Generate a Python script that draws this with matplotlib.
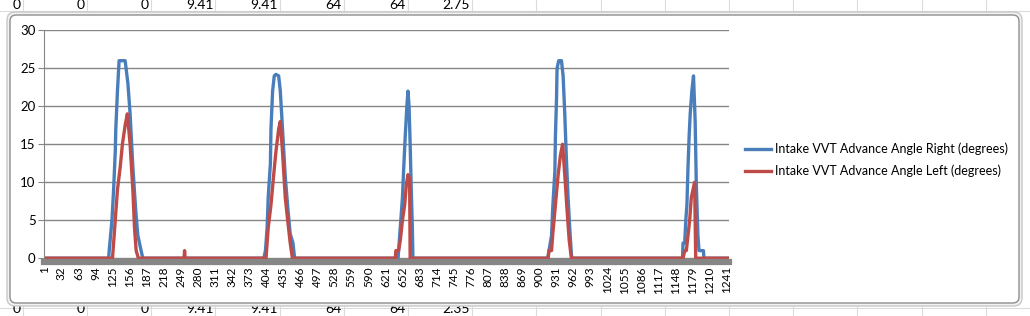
import numpy as np
import matplotlib.pyplot as plt
from matplotlib.patches import FancyBboxPatch
from matplotlib.lines import Line2D

plt.rcParams['font.family'] = ['Lato', 'DejaVu Sans']

# data (category number, degrees)
cat_right = [1, 118, 119, 124, 127, 130, 131, 134, 137, 148, 153, 157, 162, 167, 171, 174, 177, 180,
             400, 403, 406, 408, 412, 413, 416, 419, 422, 427, 430, 434, 439, 444, 448, 453, 456,
             644, 645, 648, 652, 654, 657, 660, 662, 664, 666, 668, 670, 671,
             916, 919, 923, 925, 929, 930, 932, 933, 936, 941, 944, 947, 950, 953, 956, 959, 960,
             1161, 1162, 1165, 1167, 1169, 1171, 1173, 1175, 1178, 1181, 1184, 1186, 1189, 1191, 1199, 1200, 1245]
val_right = [0, 0, 1, 5, 9, 14, 17, 22, 26, 26, 23, 19, 12, 6.5, 3, 2, 1, 0,
             0, 1, 4, 8, 12.5, 17, 22, 24, 24.2, 24, 22, 17, 10.7, 6.3, 3.2, 2, 0,
             0, 1, 4, 8, 11.4, 16, 20, 22, 20, 15, 9, 4, 0,
             0, 1.3, 3, 6.5, 11.4, 16, 21, 25, 26, 26, 24, 19, 13, 8, 4, 0.6, 0,
             0, 2, 2, 5, 7, 12, 16, 19, 22, 24, 18, 10, 3, 1, 1, 0, 0]

cat_left = [1, 125, 130, 134, 139, 143, 148, 152, 157, 162, 165, 168, 172,
            255, 256, 257,
            404, 408, 413, 418, 422, 427, 430, 434, 439, 444, 448, 452,
            639, 640, 645, 648, 652, 656, 659, 662, 665, 666,
            917, 918, 923, 925, 930, 935, 939, 943, 947, 951, 955, 959,
            1162, 1165, 1168, 1171, 1174, 1177, 1180, 1183, 1185, 1245]
val_left = [0, 0, 5, 9, 12, 15, 17.5, 19, 15, 9, 4, 1, 0,
            0, 1, 0,
            0, 4, 7, 11, 14, 17, 18, 14, 8, 4.6, 2, 0,
            0, 1, 1, 2.3, 5, 7, 9.6, 11, 10.5, 0,
            0, 1, 1, 3, 7, 11, 13.5, 15, 11, 6.5, 2.4, 0,
            0, 1, 1, 3, 5, 8, 9, 10, 0, 0]

x_ticks = list(range(1, 1242, 31))
y_ticks = [0, 5, 10, 15, 20, 25, 30]

# spreadsheet cells around the chart
cells_top = ['0', '0', '0', '9.41', '9.41', '64', '64', '2.75']
cells_bottom = ['0', '0', '0', '9.41', '9.41', '64', '64', '2.35']

W, H = 1030, 316
fig = plt.figure(figsize=(W/100, H/100), dpi=100)

def fx(px):
    return px/W

def fy(py):
    return 1 - py/H

col_x = 22.7 + 64.2*np.arange(17)
for x in col_x:
    fig.add_artist(Line2D([fx(x), fx(x)], [0, 1], color='#d9dbdc', lw=0.8, zorder=-3))
for y in [10.5, 308]:
    fig.add_artist(Line2D([0, 1], [fy(y), fy(y)], color='#d9dbdc', lw=0.8, zorder=-3))
for i in range(len(cells_top)):
    fig.text(fx(col_x[i]-2), fy(9), cells_top[i], ha='right', va='baseline', fontsize=10, zorder=-2)
    fig.text(fx(col_x[i]-2), fy(313), cells_bottom[i], ha='right', va='baseline', fontsize=10, zorder=-2)

# chart frame
outer = FancyBboxPatch((fx(7), fy(306)), fx(1015), (306-12)/H, boxstyle='round,pad=0,rounding_size=0.008',
                       mutation_aspect=W/H, transform=fig.transFigure, fc='#f2f2f2', ec='#c8c8c8', lw=1, zorder=-1.5)
frame = FancyBboxPatch((fx(10), fy(303)), fx(1009), (303-15)/H, boxstyle='round,pad=0,rounding_size=0.006',
                       mutation_aspect=W/H, transform=fig.transFigure, fc='white', ec='#8e8e8e', lw=1, zorder=-1)
fig.add_artist(outer)
fig.add_artist(frame)

ax = fig.add_axes([fx(44), fy(262), fx(729)-fx(44), (262-30.3)/H])
ax.set_zorder(1)
ax.patch.set_alpha(0)

ax.plot(cat_right, val_right, color='#4a7ebb', lw=2.4, solid_joinstyle='round',
        label='Intake VVT Advance Angle Right (degrees)')
ax.plot(cat_left, val_left, color='#be4b48', lw=2.4, solid_joinstyle='round',
        label='Intake VVT Advance Angle Left (degrees)')

ax.set_xlim(0.5, 1245.5)
ax.set_ylim(-0.5, 30)
ax.set_xticks(x_ticks)
ax.set_xticklabels([str(t) for t in x_ticks], rotation=90)
ax.set_yticks(y_ticks)
ax.grid(axis='y', color='#868686', lw=1)
ax.set_axisbelow(True)

ax.spines['top'].set_visible(False)
ax.spines['right'].set_visible(False)
ax.spines['left'].set_color('#868686')
ax.spines['left'].set_linewidth(0.8)
ax.spines['bottom'].set_color('#868686')
ax.spines['bottom'].set_linewidth(4.5)

ax.tick_params(axis='y', length=4, color='#868686', labelsize=9.5, pad=2)
ax.tick_params(axis='x', length=0, labelsize=8.5, pad=3)

ax.legend(loc='center left', bbox_to_anchor=(fx(745), fy(160)), bbox_transform=fig.transFigure,
          frameon=False, fontsize=9, handlelength=2.1, handletextpad=0.3, labelspacing=0.75,
          borderpad=0, borderaxespad=0)

fig.savefig('out.png', dpi=100)
